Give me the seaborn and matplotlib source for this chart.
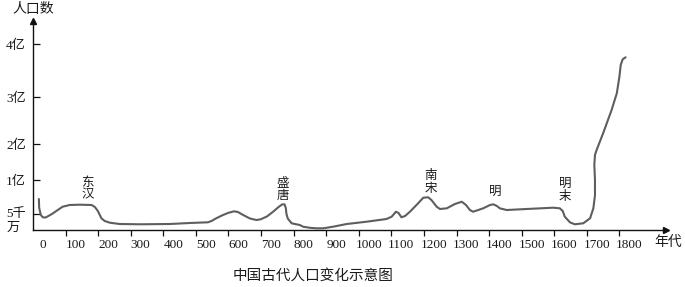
import numpy as np
import pandas as pd
import matplotlib
matplotlib.use("Agg")
import matplotlib.pyplot as plt
from matplotlib.transforms import ScaledTranslation
from matplotlib.ticker import NullLocator
import seaborn as sns

# ---------------- data ----------------
years = [18, 19, 24, 30, 39, 58, 76, 91, 113, 144,
         180, 190, 199, 210, 220, 236, 266, 328, 420, 481,
         537, 548, 561, 580, 598, 617, 629, 645, 666, 686,
         699, 718, 737, 752, 764, 772, 776, 778, 782, 794,
         819, 829, 850, 870, 891, 921, 963, 1024, 1085, 1101,
         1114, 1122, 1131, 1142, 1157, 1182, 1198, 1213, 1223, 1239,
         1249, 1270, 1295, 1316, 1329, 1341, 1351, 1382, 1403, 1413,
         1424, 1433, 1454, 1515, 1597, 1617, 1626, 1632, 1648, 1663,
         1689, 1710, 1720, 1725, 1725, 1723, 1725, 1730, 1750, 1776,
         1792, 1800, 1804, 1810, 1819]
population = [0.725, 0.593, 0.478, 0.404, 0.398, 0.504, 0.563, 0.612, 0.637, 0.641,
              0.637, 0.607, 0.549, 0.373, 0.287, 0.232, 0.191, 0.182, 0.191, 0.223,
              0.245, 0.287, 0.366, 0.462, 0.519, 0.544, 0.534, 0.478, 0.366, 0.318,
              0.341, 0.430, 0.538, 0.600, 0.644, 0.647, 0.593, 0.504, 0.366, 0.213,
              0.159, 0.105, 0.070, 0.054, 0.054, 0.105, 0.191, 0.264, 0.350, 0.424,
              0.538, 0.519, 0.404, 0.446, 0.538, 0.661, 0.744, 0.750, 0.710, 0.612,
              0.578, 0.588, 0.651, 0.685, 0.637, 0.563, 0.538, 0.588, 0.637, 0.647,
              0.622, 0.588, 0.563, 0.578, 0.597, 0.588, 0.549, 0.429, 0.245, 0.182,
              0.213, 0.373, 0.588, 0.779, 1.008, 1.425, 1.703, 1.842, 2.233, 2.725,
              3.070, 3.383, 3.604, 3.711, 3.749]  # 亿

x_tick_years = [0, 100, 200, 300, 400, 500, 600, 700, 800, 900,
                1000, 1100, 1200, 1300, 1400, 1500, 1600, 1700, 1800]
x_tick_labels = [str(v) for v in x_tick_years]
y_tick_values = [0.5, 1, 2, 3, 4]
y_tick_labels = ["5千\n万", "1亿", "2亿", "3亿", "4亿"]

era_labels = ["东\n汉", "盛\n唐", "南\n宋", "明", "明\n末"]

# ---------------- style ----------------
sns.set_style("white")
plt.rcParams["font.family"] = ["Liberation Serif", "Noto Sans CJK SC"]

W, H = 685, 287
fig = plt.figure(figsize=(W / 100, H / 100), dpi=100)
ax = fig.add_axes([33 / W, 57 / H, 633 / W, 209.5 / H])

df = pd.DataFrame({"year": years, "pop": population})
sns.lineplot(data=df, x="year", y="pop", sort=False, estimator=None,
             color="#5e5e5e", lw=1.5, ax=ax)
for ln in ax.lines:
    ln.set_solid_joinstyle("round")
    ln.set_solid_capstyle("round")

# schematic (non-uniform) population axis
pop_knots = [-1, 0, 0.5, 1, 2, 3, 4, 10]
h_knots = [-31.4, 0, 15.7, 49.7, 85.7, 133, 186, 504]
fwd = lambda v: np.interp(v, pop_knots, h_knots)
inv = lambda v: np.interp(v, h_knots, pop_knots)
ax.set_yscale("function", functions=(fwd, inv))
ax.set_xlim(0, 1943)
ax.set_ylim(0, float(inv(209.5)))

ax.set_xticks(x_tick_years)
ax.set_xticklabels(x_tick_labels)
ax.set_yticks(y_tick_values)
ax.set_yticklabels(y_tick_labels)
ax.yaxis.set_minor_locator(NullLocator())
ax.xaxis.set_minor_locator(NullLocator())
ax.set_xlabel("")
ax.set_ylabel("")

ax.tick_params(axis="x", which="major", bottom=True, direction="out", length=4.3,
               width=0.9, pad=2.0, labelsize=9.5, color="#111111", labelcolor="#1a1a1a")
ax.tick_params(axis="y", which="major", left=True, direction="in", length=5,
               width=0.9, pad=5, labelsize=9.5, color="#111111", labelcolor="#1a1a1a")
ax.xaxis.get_major_ticks()[0].tick1line.set_visible(False)

sns.despine(ax=ax)
for s in ("left", "bottom"):
    ax.spines[s].set_visible(True)
    ax.spines[s].set_color("#111111")
    ax.spines[s].set_linewidth(1.0)

# arrow heads
ax.plot([1], [0], marker=">", color="#111111", ms=5, ls="", transform=ax.transAxes, clip_on=False)
ax.plot([0], [1], marker="^", color="#111111", ms=5, ls="", transform=ax.transAxes, clip_on=False)

# label offsets (labels sit to the right of their tick marks)
off = ScaledTranslation(10 / 100, 0, fig.dpi_scale_trans)
for lab in ax.get_xticklabels():
    lab.set_transform(lab.get_transform() + off)
first = ax.get_yticklabels()[0]
first.set_multialignment("left")
first.set_transform(first.get_transform() + ScaledTranslation(0, -4 / 100, fig.dpi_scale_trans))


def ftext(px, py, s, **kw):
    fig.text(px / W, 1 - py / H, s, ha="center", va="center", color="#1a1a1a", **kw)


ftext(33, 10, "人口数", fontsize=10)
ftext(668, 242, "年代", fontsize=10)
era_pos = [(87.5, 189), (282.5, 190), (430.5, 182.5), (495.5, 192), (565, 190.5)]
for (px, py), s in zip(era_pos, era_labels):
    ftext(px, py, s, fontsize=9, linespacing=1.1)
ftext(313, 276, "中国古代人口变化示意图", fontsize=10.5)

fig.savefig("out.png", dpi=100)
